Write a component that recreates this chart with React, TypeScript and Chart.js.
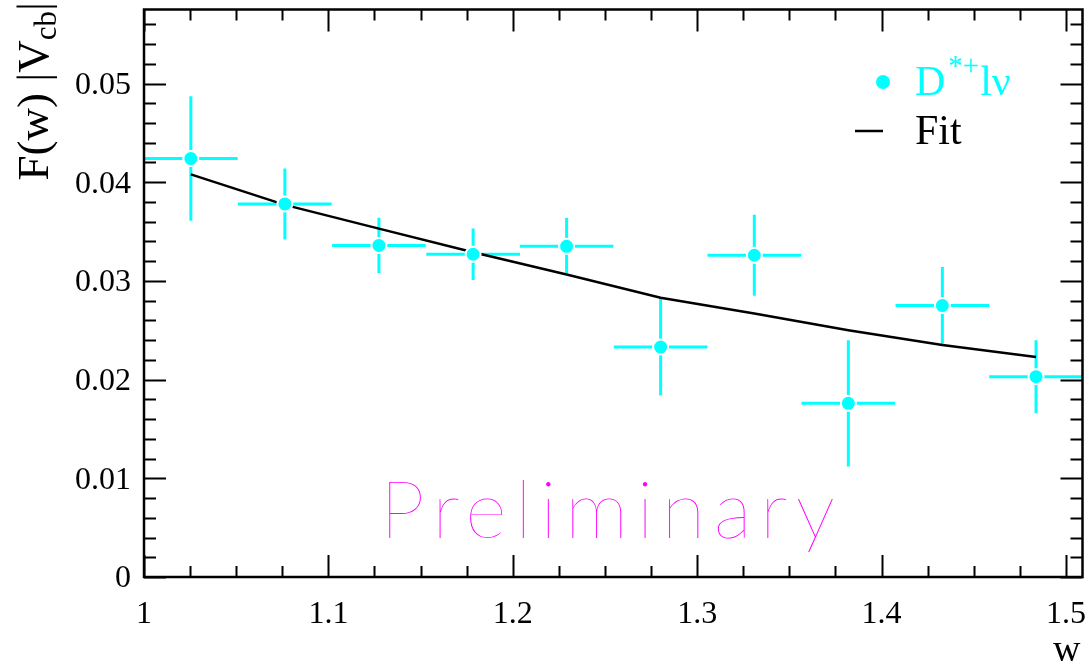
import { useEffect, useRef } from "react";
import { Chart, registerables } from "chart.js";

Chart.register(...registerables);

// ---- data ----
const W_CENTERS = [1.0254, 1.0764, 1.1274, 1.1785, 1.2292, 1.2802, 1.331, 1.382, 1.433, 1.4838];
const W_HALF_WIDTHS = [0.0254, 0.0254, 0.0254, 0.0254, 0.0254, 0.0254, 0.0254, 0.0254, 0.0254, 0.0254];
const F_VALUES = [0.0424, 0.0378, 0.0336, 0.0327, 0.0335, 0.0233, 0.0326, 0.0176, 0.0275, 0.0203];
const F_ERRORS = [0.0063, 0.0036, 0.0028, 0.0026, 0.0029, 0.0049, 0.0041, 0.0064, 0.0039, 0.0037];
const FIT_VALUES = [0.0408, 0.0377, 0.0353, 0.0329, 0.03065, 0.0283, 0.0267, 0.025, 0.0235, 0.0223];

const X_TICKS = [1, 1.1, 1.2, 1.3, 1.4, 1.5];
const X_TICK_LABELS = ["1", "1.1", "1.2", "1.3", "1.4", "1.5"];
const Y_TICKS = [0, 0.01, 0.02, 0.03, 0.04, 0.05];
const Y_TICK_LABELS = ["0", "0.01", "0.02", "0.03", "0.04", "0.05"];
const X_RANGE = [1, 1.509];
const Y_RANGE = [0, 0.0575];
const X_MINOR_STEP = 0.025;
const Y_MINOR_STEP = 0.002;

const X_TITLE = "w";
const Y_TITLE_MAIN = "F(w) |V";
const Y_TITLE_SUB = "cb";
const Y_TITLE_END = "|";
const LEGEND_DATA_PARTS = ["D", "*+", "lν"];
const LEGEND_FIT = "Fit";
const WATERMARK = "Preliminary";

const CYAN = "#00ffff";
const MAGENTA = "#ff00ff";
const SERIF = "'Liberation Serif', 'Times New Roman', serif";

const overlay = {
  id: "overlay",
  beforeDatasetsDraw(chart: any) {
    const { ctx, chartArea: a, scales } = chart;
    const x = scales.x;
    const y = scales.y;
    ctx.save();
    ctx.beginPath();
    ctx.rect(a.left, a.top, a.right - a.left, a.bottom - a.top);
    ctx.clip();
    ctx.strokeStyle = CYAN;
    ctx.lineWidth = 3;
    const gap = 8;
    for (let i = 0; i < W_CENTERS.length; i++) {
      const px = x.getPixelForValue(W_CENTERS[i]);
      const py = y.getPixelForValue(F_VALUES[i]);
      const l = x.getPixelForValue(W_CENTERS[i] - W_HALF_WIDTHS[i]);
      const r = x.getPixelForValue(W_CENTERS[i] + W_HALF_WIDTHS[i]);
      const t = y.getPixelForValue(F_VALUES[i] + F_ERRORS[i]);
      const b = y.getPixelForValue(F_VALUES[i] - F_ERRORS[i]);
      ctx.beginPath();
      ctx.moveTo(l, py); ctx.lineTo(px - gap, py);
      ctx.moveTo(px + gap, py); ctx.lineTo(r, py);
      ctx.moveTo(px, t); ctx.lineTo(px, py - gap);
      ctx.moveTo(px, py + gap); ctx.lineTo(px, b);
      ctx.stroke();
    }
    ctx.restore();
  },
  afterDraw(chart: any) {
    const { ctx, chartArea: a, scales } = chart;
    const x = scales.x;
    const y = scales.y;
    ctx.save();
    // frame
    ctx.strokeStyle = "#000";
    ctx.lineWidth = 2.5;
    ctx.strokeRect(a.left, a.top, a.right - a.left, a.bottom - a.top);
    // ticks
    ctx.lineWidth = 2;
    ctx.beginPath();
    const nx = Math.round((X_RANGE[1] - X_RANGE[0]) / X_MINOR_STEP);
    for (let k = 0; k <= nx; k++) {
      const v = X_RANGE[0] + k * X_MINOR_STEP;
      if (v > X_RANGE[1] + 1e-9) break;
      const major = k % 4 === 0;
      const len = major ? 22 : 11;
      const px = Math.round(x.getPixelForValue(v)) + 0.5;
      ctx.moveTo(px, a.bottom); ctx.lineTo(px, a.bottom - len);
      ctx.moveTo(px, a.top); ctx.lineTo(px, a.top + len);
    }
    const ny = Math.round((Y_RANGE[1] - Y_RANGE[0]) / Y_MINOR_STEP);
    for (let k = 0; k <= ny; k++) {
      const v = Y_RANGE[0] + k * Y_MINOR_STEP;
      if (v > Y_RANGE[1] + 1e-9) break;
      const major = k % 5 === 0;
      const len = major ? 22 : 12;
      const py = Math.round(y.getPixelForValue(v)) + 0.5;
      ctx.moveTo(a.left, py); ctx.lineTo(a.left + len, py);
      ctx.moveTo(a.right, py); ctx.lineTo(a.right - len, py);
    }
    ctx.stroke();

    // tick labels
    ctx.fillStyle = "#000";
    ctx.font = `32px ${SERIF}`;
    ctx.textAlign = "center";
    ctx.textBaseline = "alphabetic";
    X_TICKS.forEach((v, i) => {
      ctx.fillText(X_TICK_LABELS[i], x.getPixelForValue(v), 623);
    });
    ctx.textAlign = "right";
    ctx.textBaseline = "middle";
    Y_TICKS.forEach((v, i) => {
      ctx.fillText(Y_TICK_LABELS[i], 131, y.getPixelForValue(v) + 2);
    });

    // x title
    ctx.font = `38px ${SERIF}`;
    ctx.textAlign = "right";
    ctx.textBaseline = "alphabetic";
    ctx.fillText(X_TITLE, a.right - 2, 661);

    // y title (rotated)
    ctx.save();
    const mainFont = `45px ${SERIF}`;
    const subFont = `31px ${SERIF}`;
    ctx.font = mainFont;
    const w1 = ctx.measureText(Y_TITLE_MAIN).width;
    const w3 = ctx.measureText(Y_TITLE_END).width;
    ctx.font = subFont;
    const w2 = ctx.measureText(Y_TITLE_SUB).width;
    const total = w1 + w2 + w3;
    ctx.translate(48, 2 + total);
    ctx.rotate(-Math.PI / 2);
    ctx.textAlign = "left";
    ctx.font = mainFont;
    ctx.fillText(Y_TITLE_MAIN, 0, 0);
    ctx.font = subFont;
    ctx.fillText(Y_TITLE_SUB, w1, 8);
    ctx.font = mainFont;
    ctx.fillText(Y_TITLE_END, w1 + w2, 0);
    ctx.restore();

    // legend
    ctx.textAlign = "left";
    ctx.textBaseline = "alphabetic";
    ctx.fillStyle = CYAN;
    ctx.beginPath();
    ctx.arc(883, 82, 7, 0, Math.PI * 2);
    ctx.fill();
    ctx.font = `42px ${SERIF}`;
    let lx = 915;
    ctx.fillText(LEGEND_DATA_PARTS[0], lx, 95);
    lx += ctx.measureText(LEGEND_DATA_PARTS[0]).width + 3;
    ctx.font = `29px ${SERIF}`;
    ctx.fillText(LEGEND_DATA_PARTS[1], lx, 75);
    lx += ctx.measureText(LEGEND_DATA_PARTS[1]).width + 1;
    ctx.font = `42px ${SERIF}`;
    ctx.fillText(LEGEND_DATA_PARTS[2], lx, 95);

    ctx.strokeStyle = "#000";
    ctx.lineWidth = 2.5;
    ctx.beginPath();
    ctx.moveTo(855, 131); ctx.lineTo(883, 131);
    ctx.stroke();
    ctx.fillStyle = "#000";
    ctx.fillText(LEGEND_FIT, 915, 144);

    // watermark
    ctx.fillStyle = MAGENTA;
    ctx.font = `100 80px Lato, 'DejaVu Sans', sans-serif`;
    (ctx as any).letterSpacing = "0px";
    const w0 = ctx.measureText(WATERMARK).width;
    const ls = (455 - w0) / (WATERMARK.length - 1);
    (ctx as any).letterSpacing = `${ls}px`;
    ctx.fillText(WATERMARK, 380, 538);
    ctx.restore();
  },
};

export default function App() {
  const ref = useRef<HTMLCanvasElement | null>(null);
  useEffect(() => {
    if (!ref.current) return;
    const chart = new Chart(ref.current, {
      type: "scatter",
      data: {
        datasets: [
          {
            label: "data",
            data: W_CENTERS.map((v, i) => ({ x: v, y: F_VALUES[i] })),
            pointRadius: 7.5,
            pointBackgroundColor: CYAN,
            pointBorderColor: "#ffffff",
            pointBorderWidth: 2,
            showLine: false,
          },
          {
            label: "fit",
            data: W_CENTERS.map((v, i) => ({ x: v, y: FIT_VALUES[i] })),
            showLine: true,
            borderColor: "#000000",
            borderWidth: 2.5,
            pointRadius: 0,
            tension: 0,
          },
        ],
      },
      options: {
        responsive: false,
        animation: false,
        devicePixelRatio: 1,
        events: [],
        layout: { padding: { top: 6, right: 6, left: 0, bottom: 0 } },
        plugins: {
          legend: { display: false },
          tooltip: { enabled: false },
          title: { display: false },
        },
        scales: {
          x: {
            type: "linear",
            min: X_RANGE[0],
            max: X_RANGE[1],
            grid: { display: false, drawTicks: false },
            border: { display: false },
            ticks: { display: false },
            afterBuildTicks: (s: any) => {
              s.ticks = X_TICKS.map((v) => ({ value: v }));
            },
            afterFit: (s: any) => {
              s.height = 88;
            },
          },
          y: {
            type: "linear",
            min: Y_RANGE[0],
            max: Y_RANGE[1],
            grid: { display: false, drawTicks: false },
            border: { display: false },
            ticks: { display: false },
            afterBuildTicks: (s: any) => {
              s.ticks = Y_TICKS.map((v) => ({ value: v }));
            },
            afterFit: (s: any) => {
              s.width = 144;
            },
          },
        },
      } as any,
      plugins: [overlay],
    });
    return () => chart.destroy();
  }, []);
  return (
    <div style={{ position: "fixed", left: 0, top: 0, width: 1092, height: 665, background: "#fff" }}>
      <canvas ref={ref} width={1092} height={665} style={{ display: "block", width: 1092, height: 665 }} />
    </div>
  );
}
